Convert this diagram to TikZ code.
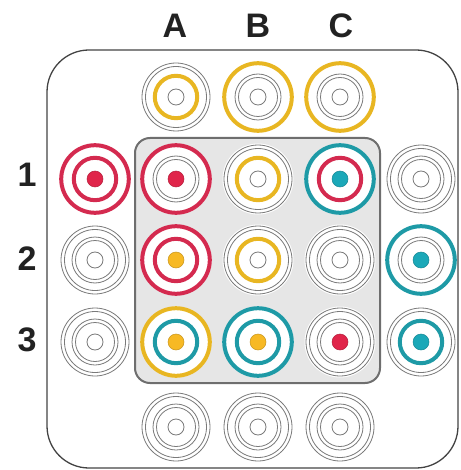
\documentclass[tikz,border=0pt]{standalone}
\usepackage{fontspec}
\setmainfont{Liberation Sans}
\definecolor{wr}{HTML}{D42A4F}
\definecolor{wy}{HTML}{E8B622}
\definecolor{wt}{HTML}{1E9AA6}
\definecolor{dr}{HTML}{E0254A}
\definecolor{dy}{HTML}{F7B924}
\definecolor{dt}{HTML}{1BA8B8}
\definecolor{thinc}{HTML}{7A7A7A}
\definecolor{platefill}{HTML}{E6E6E6}
\definecolor{plateline}{HTML}{6E6E6E}
\definecolor{labc}{HTML}{222222}
\tikzset{
  thinring/.style={draw=thinc, line width=0.8pt},
  colring/.style={draw=w#1, line width=4pt},
  dotstyle/.style={fill=d#1, draw=d#1!80!black, line width=0.5pt},
  lab/.style={font=\fontsize{34}{34}\selectfont\bfseries, text=labc, inner sep=0pt},
  outerplate/.style={draw=labc!85, line width=1.3pt, rounded corners=42pt},
  innerplate/.style={draw=plateline, fill=platefill, line width=2pt, rounded corners=15pt},
}
% #1 x, #2 y, #3 outer ring, #4 middle ring, #5 centre (n = plain, r/y/t = colour)
\newcommand\mywell[6]{%
  \coordinate (#1) at (#2,#3);
  \fill[white] (#1) circle (35.5pt);
  \if n#4
    \draw[thinring] (#1) circle (34pt);
    \draw[thinring] (#1) circle (30.5pt);
  \else
    \draw[colring=#4] (#1) circle (33.8pt);
  \fi
  \if n#5
    \draw[thinring] (#1) circle (23pt);
    \draw[thinring] (#1) circle (19.5pt);
  \else
    \draw[colring=#5] (#1) circle (21.2pt);
  \fi
  \if n#6
    \draw[thinring] (#1) circle (8pt);
  \else
    \draw[dotstyle=#6] (#1) circle (8pt);
  \fi
}
\begin{document}
\begin{tikzpicture}[x=1pt,y=-1pt]
\useasboundingbox (0,0) rectangle (460,470);
\draw[outerplate] (47,50) rectangle (458,468);
\draw[innerplate] (135,138) rectangle (380,383);
% labels
\node[lab] (lA) at (175,26) {A};
\node[lab] (lB) at (258,26) {B};
\node[lab] (lC) at (341,26) {C};
\node[lab] (l1) at (27,175) {1};
\node[lab] (l2) at (27,259) {2};
\node[lab] (l3) at (27,340) {3};
% top row
\mywell{tA}{176}{97}{n}{y}{n}
\mywell{tB}{258}{97}{y}{n}{n}
\mywell{tC}{340}{97}{y}{n}{n}
% row 1
\mywell{r1L}{95}{179}{r}{r}{r}
\mywell{r1A}{176}{179}{r}{n}{r}
\mywell{r1B}{258}{179}{n}{y}{n}
\mywell{r1C}{340}{179}{t}{r}{t}
\mywell{r1R}{421}{179}{n}{n}{n}
% row 2
\mywell{r2L}{95}{260}{n}{n}{n}
\mywell{r2A}{176}{260}{r}{r}{y}
\mywell{r2B}{258}{260}{n}{y}{n}
\mywell{r2C}{340}{260}{n}{n}{n}
\mywell{r2R}{421}{260}{t}{n}{t}
% row 3
\mywell{r3L}{95}{342}{n}{n}{n}
\mywell{r3A}{176}{342}{y}{t}{y}
\mywell{r3B}{258}{342}{t}{t}{y}
\mywell{r3C}{340}{342}{n}{n}{r}
\mywell{r3R}{421}{342}{n}{t}{t}
% bottom row
\mywell{bA}{176}{427}{n}{n}{n}
\mywell{bB}{258}{427}{n}{n}{n}
\mywell{bC}{340}{427}{n}{n}{n}
\end{tikzpicture}
\end{document}
